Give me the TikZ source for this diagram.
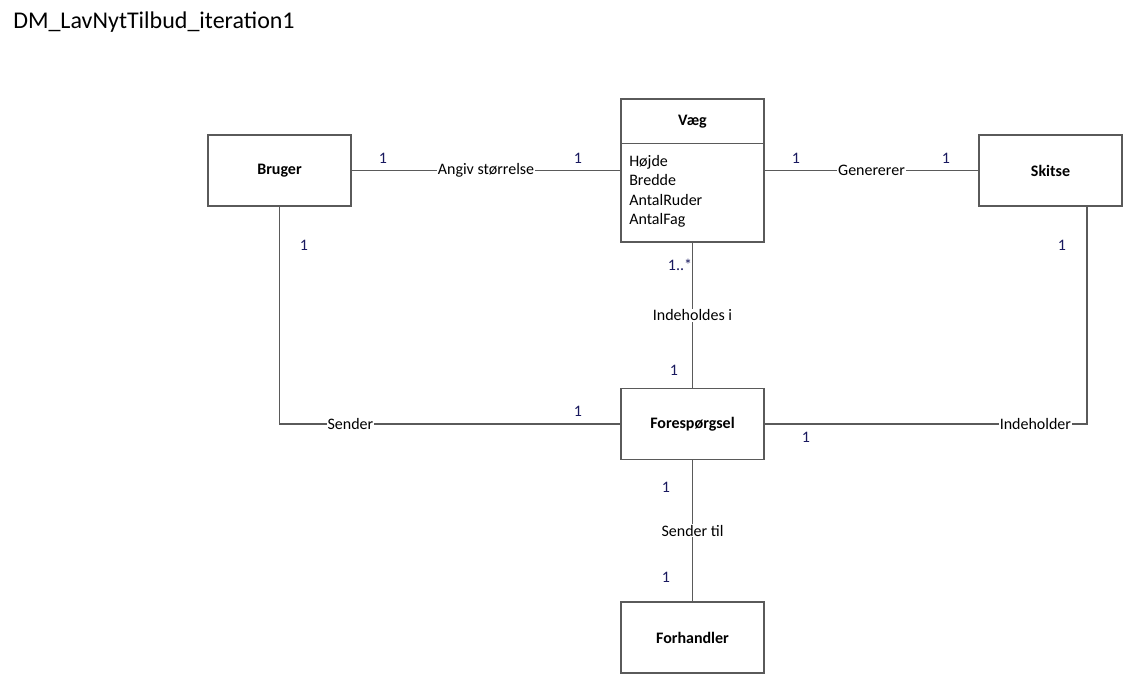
\documentclass[tikz,border=0pt]{standalone}
\usepackage{fontspec}
\setmainfont{Carlito}
\usetikzlibrary{calc}
\definecolor{edgegray}{RGB}{90,90,90}
\definecolor{multblue}{RGB}{25,25,95}
\begin{document}
\begin{tikzpicture}[x=0.75pt,y=-0.75pt,
  entity/.style={draw=edgegray,line width=0.9pt,fill=white,
    minimum width=107.25pt,minimum height=53.25pt,inner sep=0pt,
    font=\fontsize{12}{14}\selectfont\bfseries},
  conn/.style={draw=edgegray,line width=0.9pt},
  assoc/.style={fill=white,inner sep=0.6pt,font=\fontsize{12}{14}\selectfont,text=black},
  mult/.style={inner sep=0pt,font=\fontsize{12}{14}\selectfont,text=multblue}]
\useasboundingbox[fill=white] (0,0) rectangle (1125,675);

% heading
\node[anchor=west,inner sep=0pt,font=\fontsize{18}{21}\selectfont] (title) at (13,22) {DM\_LavNytTilbud\_iteration1};

% entities
\node[entity] (bruger) at (279.5,170.5) {Bruger};
\node[entity] (skitse) at (1050.5,170.5) {Skitse};
\node[entity] (fore) at (692.5,424) {Forespørgsel};
\node[entity] (forh) at (692.5,637.5) {Forhandler};

% class box with attribute compartment
\node[entity,minimum height=107.25pt] (vaeg) at (692.5,170.5) {};
\node[inner sep=0pt,font=\fontsize{12}{14}\selectfont\bfseries] (vaegname) at (692.5,122) {Væg};
\draw[conn] ($(vaeg.north west)+(0,45)$) -- ($(vaeg.north east)+(0,45)$);
\node[anchor=north west,align=left,inner sep=0pt,
  font=\fontsize{12}{14.6}\selectfont] (vaegattr) at (629,155)
  {Højde\\Bredde\\AntalRuder\\AntalFag};

% associations
\draw[conn] (bruger.east) -- node[assoc] {Angiv størrelse} (vaeg.west);
\draw[conn] (vaeg.east) -- node[assoc] {Genererer} (skitse.west);
\draw[conn] (vaeg.south) -- node[assoc] {Indeholdes i} (fore.north);
\draw[conn] (bruger.south) |- node[assoc,pos=0.604] {Sender} (fore.west);
\coordinate (skitsedrop) at ($(skitse.south)+(36.5,0)$);
\draw[conn] (skitsedrop) |- node[assoc,pos=0.58] {Indeholder} (fore.east);
\draw[conn] (fore.south) -- node[assoc] {Sender til} (forh.north);

% multiplicities
\node[mult] at (383,158) {1};
\node[mult] at (578,158) {1};
\node[mult] at (796,158) {1};
\node[mult] at (946,158) {1};
\node[mult] at (680,265) {1..*};
\node[mult] at (674,370) {1};
\node[mult] at (304,245) {1};
\node[mult] at (578,411) {1};
\node[mult] at (1062,245) {1};
\node[mult] at (806,437) {1};
\node[mult] at (666,487) {1};
\node[mult] at (666,577) {1};
\end{tikzpicture}
\end{document}
